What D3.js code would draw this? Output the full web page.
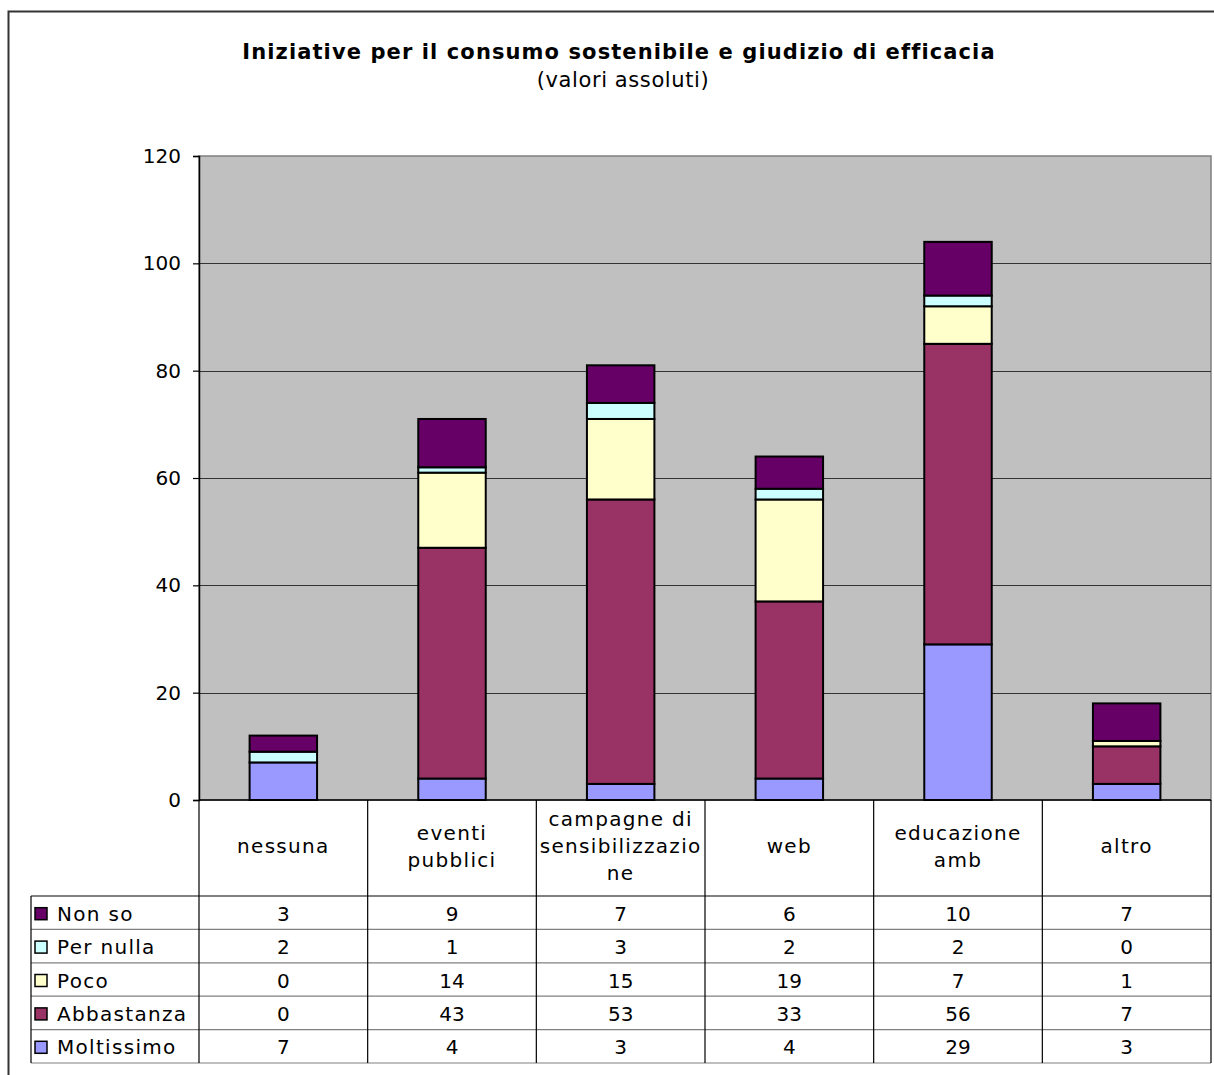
<!DOCTYPE html>
<html>
  <head>
    <meta charset="utf-8">
    <title>Iniziative per il consumo sostenibile</title>
    <style>
      html, body { margin: 0; background: #ffffff; overflow: hidden; }
      svg { display: block; }
      text { font-family: "DejaVu Sans", Verdana, sans-serif; fill: #000; }
    </style>
  </head>
  <body>
    <div id="chart"></div>
    <script src="https://d3js.org/d3.v7.min.js"></script>
    <script>

      var categories = ["nessuna", "eventi pubblici", "campagne di sensibilizzazione", "web", "educazione amb", "altro"]
      // header lines as wrapped in the data table
      var catLines   = [["nessuna"], ["eventi", "pubblici"], ["campagne di", "sensibilizzazio", "ne"], ["web"], ["educazione", "amb"], ["altro"]]

      var moltissimo = [7, 4, 3, 4, 29, 3]
      var abbastanza = [0, 43, 53, 33, 56, 7]
      var poco       = [0, 14, 15, 19, 7, 1]
      var perNulla   = [2, 1, 3, 2, 2, 0]
      var nonSo      = [3, 9, 7, 6, 10, 7]

      var seriesNames  = ["Moltissimo", "Abbastanza", "Poco", "Per nulla", "Non so"]
      var seriesColors = ["#9999ff", "#993366", "#ffffcc", "#ccffff", "#660066"]
      var yTicks = [0, 20, 40, 60, 80, 100, 120]

      var title    = "Iniziative per il consumo sostenibile e giudizio di efficacia"
      var subtitle = "(valori assoluti)"

      var seriesValues = [moltissimo, abbastanza, poco, perNulla, nonSo]
      var rows = categories.map(function(c, i){
        var r = { cat: c }
        seriesNames.forEach(function(s, j){ r[s] = seriesValues[j][i] })
        return r
      })

      var W = 1214, H = 1075
      var plot = { left: 199, right: 1211, top: 156, bottom: 800 }
      var tableTop = 896, tableBottom = 1063, tableLeft = 31
      var rowH = (tableBottom - tableTop) / seriesNames.length
      var fs = 20,
          ls = "1.3px"   // the table text is set a bit looser than DejaVu

      var svg = d3.select("#chart").append("svg")
                  .attr("width", W)
                  .attr("height", H)

      // outer chart frame (right/bottom edges fall outside the picture)
      svg.append("rect")
          .attr("x", 8.5).attr("y", 11.5)
          .attr("width", W + 40).attr("height", H + 40)
          .attr("fill", "#fff")
          .attr("stroke", "#333").attr("stroke-width", 2)

      svg.append("text")
          .attr("x", 619).attr("y", 59)
          .attr("text-anchor", "middle")
          .style("font-weight", "bold")
          .style("font-size", "21px")
          .style("letter-spacing", "1.1px")
          .text(title)

      svg.append("text")
          .attr("x", 623).attr("y", 87)
          .attr("text-anchor", "middle")
          .style("font-size", "21px")
          .style("letter-spacing", "0.6px")
          .text(subtitle)

      var x = d3.scaleBand()
                .domain(categories)
                .range([plot.left, plot.right])
                .paddingInner(0.6)
                .paddingOuter(0.3)

      var xCol = d3.scaleBand()
                .domain(categories)
                .range([plot.left, plot.right])

      var y = d3.scaleLinear()
                .domain([0, 120])
                .range([plot.bottom, plot.top])

      // plot area
      svg.append("rect")
          .attr("x", plot.left).attr("y", plot.top)
          .attr("width", plot.right - plot.left).attr("height", plot.bottom - plot.top)
          .attr("fill", "#c0c0c0")
          .attr("stroke", "#808080").attr("stroke-width", 1.5)

      // gridlines
      svg.append("g").selectAll("line")
          .data(yTicks.filter(function(d){ return d > 0 && d < 120 }))
          .enter().append("line")
          .attr("x1", plot.left).attr("x2", plot.right)
          .attr("y1", function(d){ return Math.round(y(d)) + 0.5 })
          .attr("y2", function(d){ return Math.round(y(d)) + 0.5 })
          .attr("stroke", "#333").attr("stroke-width", 1.2)

      // y axis
      var yAxis = d3.axisLeft(y).tickValues(yTicks).tickSize(6).tickPadding(12)
      var gY = svg.append("g")
          .attr("transform", "translate(" + plot.left + ",0)")
          .call(yAxis)
      gY.select(".domain").attr("stroke", "#000").attr("stroke-width", 1.5)
      gY.selectAll(".tick line").attr("stroke", "#000").attr("stroke-width", 1.2)
      gY.selectAll("text").style("font-size", fs + "px").attr("font-family", null)

      // stacked bars
      var stack = d3.stack().keys(seriesNames)
      var layers = stack(rows)

      svg.append("g").selectAll("g")
          .data(layers)
          .enter().append("g")
          .attr("fill", function(d, i){ return seriesColors[i] })
          .selectAll("rect")
          .data(function(d){ return d.filter(function(p){ return p[1] > p[0] }) })
          .enter().append("rect")
          .attr("x", function(d){ return x(d.data.cat) })
          .attr("width", x.bandwidth())
          .attr("y", function(d){ return y(d[1]) })
          .attr("height", function(d){ return y(d[0]) - y(d[1]) })
          .attr("stroke", "#000")
          .attr("stroke-width", 2)

      // x axis line
      svg.append("line")
          .attr("x1", plot.left).attr("x2", plot.right)
          .attr("y1", plot.bottom).attr("y2", plot.bottom)
          .attr("stroke", "#000").attr("stroke-width", 1.5)

      // data table
      var table = svg.append("g")

      // horizontal row lines
      var hLines = d3.range(seriesNames.length + 1).map(function(i){ return tableTop + i * rowH })
      table.selectAll("line.h")
          .data(hLines)
          .enter().append("line")
          .attr("class", "h")
          .attr("x1", tableLeft).attr("x2", plot.right)
          .attr("y1", function(d){ return d }).attr("y2", function(d){ return d })
          .attr("stroke", "#808080")
          .attr("stroke-width", function(d, i){ return i == 0 ? 2 : 1.2 })

      // vertical column lines
      var vLines = categories.map(function(c){ return xCol(c) }).concat([plot.right])
      table.selectAll("line.v")
          .data(vLines)
          .enter().append("line")
          .attr("class", "v")
          .attr("x1", function(d){ return d }).attr("x2", function(d){ return d })
          .attr("y1", plot.bottom).attr("y2", tableBottom)
          .attr("stroke", "#000").attr("stroke-width", 1.2)

      table.append("line")
          .attr("x1", tableLeft).attr("x2", tableLeft)
          .attr("y1", tableTop).attr("y2", tableBottom)
          .attr("stroke", "#000").attr("stroke-width", 1.2)

      // category headers
      var lh = 27
      table.selectAll("text.cat")
          .data(categories)
          .enter().append("text")
          .attr("class", "cat")
          .attr("text-anchor", "middle")
          .style("font-size", fs + "px")
          .style("letter-spacing", ls)
          .each(function(c, i){
            var lines = catLines[i]
            var cy = (plot.bottom + tableTop) / 2 - 2 - (lines.length - 1) * lh / 2
            var t = d3.select(this)
            lines.forEach(function(l, k){
              t.append("tspan")
                .attr("x", xCol(c) + xCol.bandwidth() / 2)
                .attr("y", cy + k * lh)
                .attr("dy", "0.35em")
                .text(l)
            })
          })

      // rows: legend key + values, top row is last series
      var tableSeries = seriesNames.slice().reverse()
      tableSeries.forEach(function(s, r){
        var si = seriesNames.indexOf(s)
        var cy = tableTop + r * rowH + rowH / 2 + 1
        table.append("rect")
            .attr("x", 35).attr("y", cy - 6)
            .attr("width", 12).attr("height", 12)
            .attr("fill", seriesColors[si])
            .attr("stroke", "#000").attr("stroke-width", 1.5)
        table.append("text")
            .attr("x", 57).attr("y", cy)
            .attr("dy", "0.35em")
            .style("font-size", fs + "px")
            .style("letter-spacing", ls)
            .text(s)
        table.selectAll("text.v" + si)
            .data(seriesValues[si])
            .enter().append("text")
            .attr("x", function(d, i){ return xCol(categories[i]) + xCol.bandwidth() / 2 })
            .attr("y", cy)
            .attr("dy", "0.35em")
            .attr("text-anchor", "middle")
            .style("font-size", fs + "px")
            .text(function(d){ return d })
      })

    </script>
  </body>
</html>
